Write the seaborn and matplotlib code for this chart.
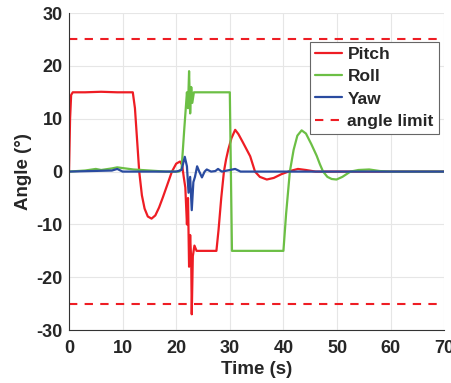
import matplotlib
matplotlib.use("Agg")
import matplotlib.pyplot as plt
import seaborn as sns
import pandas as pd

pitch_t = [0, 0.2, 0.4, 0.7, 3, 6, 9, 11.9, 12.3, 12.7, 13.1, 13.6, 14.1, 14.7, 15.4, 16.1, 16.8, 17.5, 18.3, 19.2, 20, 20.7, 21.1, 21.4, 21.7,
           22.0, 22.2, 22.4, 22.6, 22.8, 22.9, 23.1, 23.4, 23.8, 27.5, 27.9, 28.4, 28.9, 29.3, 29.7, 30.3, 31.0, 31.6, 32.4, 33.8, 34.7, 35.6, 36.9, 38.2, 39.6, 41.2, 42.7, 44.2, 46, 70]
pitch_v = [0, 10, 14.5, 15, 15, 15.1, 15, 15, 12, 6, 0, -4.5, -7, -8.5, -8.9, -8.3, -6.8, -4.9, -2.6, 0, 1.5, 1.9, 1.3, -1, -3,
           -10, -5, -18, -12, -17, -27, -16, -14, -15, -15, -11, -5, 0, 2.3, 4.1, 6.3, 7.9, 7.1, 5.6, 2.9, 0, -1.0, -1.5, -1.2, -0.5, 0.1, 0.5, 0.3, 0, 0]

roll_t = [0, 3, 5, 6, 8, 9, 12, 18, 20.5, 21, 21.5, 22, 22.2, 22.4, 22.6, 22.8, 23, 23.3, 30, 30.4, 40, 40.5, 41.2, 41.9, 42.6, 43.4, 44.2, 45.2, 46.2, 46.8, 47.4, 48.2, 49, 49.9, 51, 52.5, 54, 56, 58, 60, 70]
roll_v = [0, 0.2, 0.5, 0.3, 0.6, 0.8, 0.4, 0, 0, 0.5, 8, 15, 12, 19, 11, 16, 13, 15, 15, -15, -15, -8, 0, 4.1, 6.8, 7.8, 7.2, 5.2, 3.0, 1.4, 0, -1, -1.4, -1.5, -1.0, 0, 0.3, 0.4, 0.1, 0, 0]

yaw_t = [0, 8, 9, 10, 20, 21, 21.6, 22, 22.3, 22.6, 22.9, 23.2, 23.5, 23.9, 24.3, 24.8, 25.3, 25.7, 26.5, 27.3, 27.8, 28.5, 31, 32, 70]
yaw_v = [0, 0.2, 0.5, 0, 0, 0.3, 2.8, 1, -4, -1, -7.3, -2, -1, 1.0, 0, -1.1, 0, 0.4, 0, 0.1, 0.5, 0, 0.5, 0, 0]

limit_t = [0, 70]
limit_hi = [25, 25]
limit_lo = [-25, -25]

series_names = ["Pitch", "Roll", "Yaw"]
colors = {"Pitch": "#ee1d24", "Roll": "#6cbf45", "Yaw": "#2a4ba0"}

df = pd.concat([
    pd.DataFrame({"t": pitch_t, "v": pitch_v, "s": "Pitch"}),
    pd.DataFrame({"t": roll_t, "v": roll_v, "s": "Roll"}),
    pd.DataFrame({"t": yaw_t, "v": yaw_v, "s": "Yaw"}),
])

sns.set_style("whitegrid", {"grid.color": "#e6e6e6"})
plt.rcParams["font.family"] = ["Liberation Sans", "DejaVu Sans"]
plt.rcParams["axes.unicode_minus"] = False

fig = plt.figure(figsize=(4.51, 3.83), dpi=100)
ax = fig.add_axes([0.153, 0.138, 0.832, 0.828])

sns.lineplot(data=df, x="t", y="v", hue="s", hue_order=series_names, palette=colors,
             linewidth=1.6, ax=ax, sort=False, estimator=None)
ax.plot(limit_t, limit_hi, color="#ee1d24", linestyle=(0, (4, 3.5)), linewidth=1.5, label="angle limit")
ax.plot(limit_t, limit_lo, color="#ee1d24", linestyle=(0, (4, 3.5)), linewidth=1.5)

ax.set_xlim(0, 70)
ax.set_ylim(-30, 30)
ax.set_xticks(range(0, 71, 10))
ax.set_yticks(range(-30, 31, 10))
ax.set_xlabel("Time (s)", fontsize=13.5, fontweight="bold", labelpad=3)
ax.set_ylabel("Angle (°)", fontsize=13.5, fontweight="bold", labelpad=3)
for lab in ax.get_xticklabels() + ax.get_yticklabels():
    lab.set_fontweight("bold")
    lab.set_fontsize(13)
ax.tick_params(axis="x", length=0, pad=7, colors="#262626")
ax.tick_params(axis="y", length=0, pad=4.5, colors="#262626")

for side in ["top", "right"]:
    ax.spines[side].set_visible(False)
for side in ["left", "bottom"]:
    ax.spines[side].set_color("#333333")
    ax.spines[side].set_linewidth(0.8)

handles, labels = ax.get_legend_handles_labels()
leg = ax.legend(handles, labels, loc="upper right", bbox_to_anchor=(1.0, 0.925),
                frameon=True, fancybox=False, fontsize=12.5, handlelength=1.55,
                handletextpad=0.3, borderpad=0.3, labelspacing=0.4, borderaxespad=0.3)
leg.get_frame().set_edgecolor("#666666")
leg.get_frame().set_linewidth(0.8)
leg.get_frame().set_alpha(1)
for t in leg.get_texts():
    t.set_fontweight("bold")

fig.savefig("out.png", dpi=100)
